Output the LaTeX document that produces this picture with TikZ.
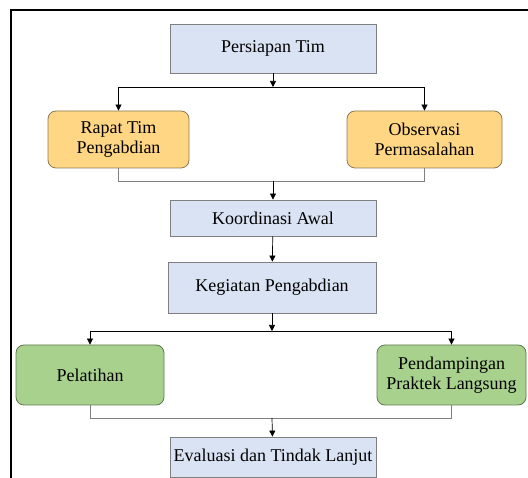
\documentclass[tikz,border=0pt]{standalone}
\usepackage{fontspec}
\setmainfont{Liberation Serif}
\usetikzlibrary{arrows.meta}
\definecolor{bluefill}{HTML}{DAE3F3}
\definecolor{boxline}{HTML}{7F7F7F}
\definecolor{orfill}{HTML}{FFD683}
\definecolor{orline}{HTML}{8A7A55}
\definecolor{grfill}{HTML}{A9D18E}
\definecolor{grline}{HTML}{5E7A50}
\definecolor{mergeline}{HTML}{808080}
\begin{document}
\begin{tikzpicture}[x=1pt,y=-1pt,
  boxtext/.style={font=\fontsize{18}{20}\selectfont, align=center, inner sep=0pt},
  bluebox/.style={boxtext, draw=boxline, fill=bluefill, line width=0.8pt, rectangle},
  orbox/.style={boxtext, draw=orline, fill=orfill, line width=0.8pt, rectangle, rounded corners=8pt},
  grbox/.style={boxtext, draw=grline, fill=grfill, line width=0.8pt, rectangle, rounded corners=8pt},
  branch/.style={draw=black, line width=0.7pt},
  merge/.style={draw=mergeline, line width=0.9pt},
  arr/.style={-{Triangle[length=6pt,width=6pt]}}
]
\useasboundingbox (0,0) rectangle (528,478);
\fill[white] (0,0) rectangle (528,478);
\draw[line width=2.4pt] (11,478) -- (11,10) -- (528,10);

\node[bluebox, minimum width=206pt, minimum height=49pt] (pt) at (273,48.5) {Persiapan Tim};
\node[orbox, minimum width=141pt, minimum height=57pt] (rapat) at (118.5,139.5) {Rapat Tim\\Pengabdian};
\node[orbox, minimum width=155pt, minimum height=57pt] (obs) at (424.5,139.5) {Observasi\\Permasalahan};
\node[bluebox, minimum width=206pt, minimum height=36pt] (koor) at (273,218) {Koordinasi Awal};
\node[bluebox, minimum width=208pt, minimum height=51pt] (keg) at (272,287.5) {Kegiatan Pengabdian};
\node[grbox, minimum width=148pt, minimum height=60pt] (pel) at (90,375) {Pelatihan};
\node[grbox, minimum width=149pt, minimum height=60pt] (pend) at (451.5,375) {Pendampingan\\Praktek Langsung};
\node[bluebox, minimum width=206pt, minimum height=40pt] (eval) at (273,457) {Evaluasi dan Tindak Lanjut};

\coordinate (b1) at (273,87);
\coordinate (m1) at (273,181);
\coordinate (b2) at (272,331);
\coordinate (m2) at (272,418);

\draw[branch, arr] (pt) -- (b1);
\draw[branch, arr] (b1) -| (rapat);
\draw[branch, arr] (b1) -| (obs);
\draw[merge] (rapat) |- (m1);
\draw[merge] (obs) |- (m1);
\draw[branch, arr] (m1) -- (koor);
\draw[branch, arr] (koor) -- (keg);
\draw[branch, arr] (keg) -- (b2);
\draw[branch, arr] (b2) -| (pel);
\draw[branch, arr] (b2) -| (pend);
\draw[merge] (pel) |- (m2);
\draw[merge] (pend) |- (m2);
\draw[branch, arr] (m2) -- (eval);
\end{tikzpicture}
\end{document}
